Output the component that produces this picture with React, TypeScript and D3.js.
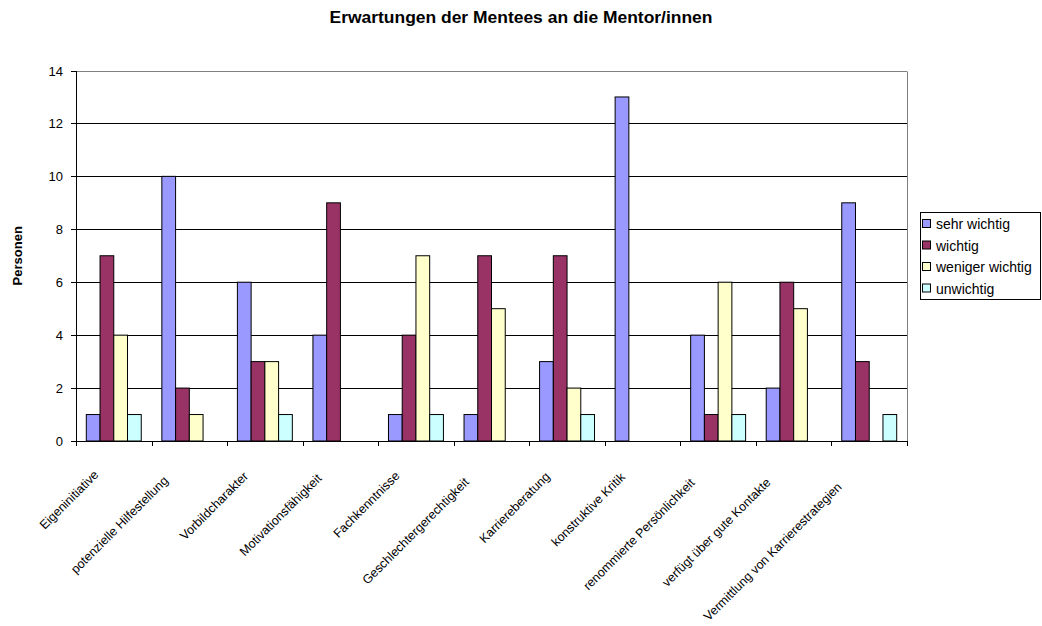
import React, { useEffect, useRef } from 'react';
import * as d3 from 'd3';

const categories = [
  'Eigeninitiative',
  'potenzielle Hilfestellung',
  'Vorbildcharakter',
  'Motivationsfähigkeit',
  'Fachkenntnisse',
  'Geschlechtergerechtigkeit',
  'Karriereberatung',
  'konstruktive Kritik',
  'renommierte Persönlichkeit',
  'verfügt über gute Kontakte',
  'Vermittlung von Karrierestrategien',
];
const seriesNames = ['sehr wichtig', 'wichtig', 'weniger wichtig', 'unwichtig'];
const sehrWichtig = [1, 10, 6, 4, 1, 1, 3, 13, 4, 2, 9];
const wichtig = [7, 2, 3, 9, 4, 7, 7, 0, 1, 6, 3];
const wenigerWichtig = [4, 1, 3, 0, 7, 5, 2, 0, 6, 5, 0];
const unwichtig = [1, 0, 1, 0, 1, 0, 1, 0, 1, 0, 1];
const yTicks = [0, 2, 4, 6, 8, 10, 12, 14];
const colors = ['#9999FF', '#993366', '#FFFFCC', '#CCFFFF'];

const W = 1042;
const H = 626;
const plot = { left: 76, right: 907, top: 70.5, bottom: 441 };
const FONT = '"Liberation Sans", Arial, sans-serif';

export default function App() {
  const labelsRef = useRef<SVGGElement>(null);
  const seriesValues = [sehrWichtig, wichtig, wenigerWichtig, unwichtig];

  const x = d3.scaleBand<string>().domain(categories).range([plot.left, plot.right]).paddingInner(0).paddingOuter(0);
  const xs = d3.scaleBand<string>().domain(seriesNames).range([0, x.bandwidth()]).paddingInner(0).paddingOuter(0.75);
  const y = d3.scaleLinear().domain([0, 14]).range([plot.bottom, plot.top]);

  useEffect(() => {
    if (!labelsRef.current) return;
    d3.select(labelsRef.current)
      .selectAll<SVGTextElement, unknown>('text')
      .each(function () {
        const el = this as SVGTextElement;
        const cx = +(el.getAttribute('data-cx') || 0);
        const L = el.getComputedTextLength();
        const s = 0.11 * L;
        el.setAttribute('transform', `translate(${cx - 6 - s},${467 + s}) rotate(-45)`);
      });
  }, []);

  const boundaries = d3.range(categories.length + 1).map((i) => plot.left + i * x.step());

  return (
    <svg width={W} height={H} style={{ position: 'absolute', left: 0, top: 0, background: '#fff' }} fontFamily={FONT}>
      <rect x={0} y={0} width={W} height={H} fill="#fff" />
      <text x={521} y={23} textAnchor="middle" fontWeight="bold" fontSize={17} textLength={383} lengthAdjust="spacingAndGlyphs">
        Erwartungen der Mentees an die Mentor/innen
      </text>

      {/* gridlines */}
      {yTicks.filter((t) => t > 0 && t < 14).map((t) => (
        <line key={t} x1={plot.left} x2={plot.right} y1={Math.round(y(t)) + 0.5} y2={Math.round(y(t)) + 0.5} stroke="#000" strokeWidth={1} />
      ))}
      {/* plot border top/right */}
      <line x1={plot.left} x2={plot.right} y1={Math.round(y(14)) + 0.5} y2={Math.round(y(14)) + 0.5} stroke="#808080" />
      <line x1={plot.right + 0.5} x2={plot.right + 0.5} y1={Math.round(y(14)) + 0.5} y2={plot.bottom} stroke="#808080" />

      {/* bars */}
      {seriesNames.map((sName, si) => (
        <g key={sName}>
          {categories.map((c, ci) => {
            const v = seriesValues[si][ci];
            if (!v) return null;
            const bx = (x(c) as number) + (xs(sName) as number);
            return (
              <rect
                key={c}
                x={bx}
                y={y(v)}
                width={xs.bandwidth()}
                height={y(0) - y(v)}
                fill={colors[si]}
                stroke="#000"
                strokeWidth={1}
              />
            );
          })}
        </g>
      ))}

      {/* y axis */}
      <line x1={plot.left + 0.5} x2={plot.left + 0.5} y1={Math.round(y(14))} y2={plot.bottom + 0.5} stroke="#000" />
      {yTicks.map((t) => (
        <g key={t}>
          <line x1={plot.left - 5} x2={plot.left} y1={Math.round(y(t)) + 0.5} y2={Math.round(y(t)) + 0.5} stroke="#000" />
          <text x={63} y={y(t) + 5} textAnchor="end" fontSize={13}>
            {t}
          </text>
        </g>
      ))}

      {/* x axis */}
      <line x1={plot.left} x2={plot.right + 1} y1={plot.bottom + 0.5} y2={plot.bottom + 0.5} stroke="#000" />
      {boundaries.map((bx, i) => (
        <line key={i} x1={Math.round(bx) + 0.5} x2={Math.round(bx) + 0.5} y1={plot.bottom} y2={plot.bottom + 5} stroke="#000" />
      ))}

      <g ref={labelsRef}>
        {categories.map((c) => {
          const cx = (x(c) as number) + x.bandwidth() / 2;
          return (
            <text key={c} data-cx={cx} textAnchor="end" fontSize={12.5} transform={`translate(${cx - 17},481) rotate(-45)`}>
              {c}
            </text>
          );
        })}
      </g>

      {/* y axis title */}
      <text transform={`translate(22,${(plot.top + plot.bottom) / 2}) rotate(-90)`} textAnchor="middle" fontWeight="bold" fontSize={13}>
        Personen
      </text>

      {/* legend */}
      <g>
        <rect x={920.5} y={212.5} width={120} height={87} fill="#fff" stroke="#000" />
        {seriesNames.map((s, i) => {
          const cy = 224 + i * 21.5;
          return (
            <g key={s}>
              <rect x={922.5} y={cy - 4.5} width={8} height={8} fill={colors[i]} stroke="#000" />
              <text x={936} y={cy + 5} fontSize={14}>
                {s}
              </text>
            </g>
          );
        })}
      </g>
    </svg>
  );
}
